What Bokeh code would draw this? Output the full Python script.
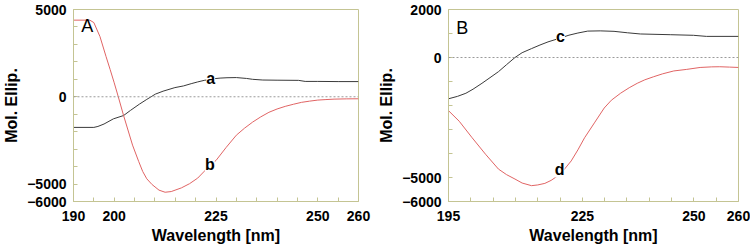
from bokeh.plotting import figure
from bokeh.layouts import row
from bokeh.models import Range1d, FixedTicker, Span
from bokeh.core.properties import value
from bokeh.embed import file_html
from bokeh.resources import INLINE

# ---------------- Panel A data ----------------
wl_a = [190, 195, 196, 197.5, 199.8, 202.3, 204, 206.2, 208, 210.1, 212, 214.9, 217, 218.9,
        220.5, 222.1, 224.5, 226, 227.7, 230, 232.5, 234, 236.5, 240, 245.3, 246.9, 250, 255, 260]
ell_a = [-1755, -1755, -1700, -1560, -1265, -1075, -780, -420, -150, 150, 320, 525, 620, 750,
         850, 940, 1035, 1070, 1090, 1100, 1050, 1000, 960, 950, 940, 880, 880, 870, 870]

wl_b = [190, 194, 195, 196.5, 198, 199, 200, 201, 202.3, 204.5, 206, 207, 208, 209.3, 211,
        212.5, 214, 216.5, 218.5, 220.5, 222, 223.7, 225, 227.5, 230, 232, 234, 236, 238, 240,
        242, 244, 246, 248, 250, 252, 254, 257, 260]
ell_b = [4390, 4390, 4250, 3450, 2300, 1560, 800, 0, -1075, -2770, -3700, -4280, -4700, -5030, -5350,
         -5470, -5430, -5220, -4980, -4660, -4300, -3900, -3650, -2900, -2200, -1800, -1450, -1150, -890, -700,
         -550, -430, -320, -250, -190, -160, -135, -120, -115]

# ---------------- Panel B data ----------------
wl_c = [195, 197, 198.9, 200.5, 202.5, 204.3, 206.2, 208, 209.9, 211.5, 213.6, 215.5, 217.3, 220.3,
        222, 224, 226.2, 229, 232.1, 235.1, 238, 244.7, 249.9, 252.8, 260]
ell_c = [-1720, -1620, -1490, -1320, -1075, -840, -590, -300, 0, 200, 370, 520, 650, 825,
         930, 1020, 1100, 1110, 1090, 1030, 980, 950, 925, 880, 880]

wl_d = [195, 197.4, 200.3, 203.3, 206.2, 208, 209.9, 211.5, 213.6, 215, 216.6, 218, 219.5, 221,
        222.5, 224, 225.5, 227.7, 229.9, 231.5, 233.6, 235.5, 237.3, 239, 241, 243, 245.5, 248.4,
        251.4, 254, 255.8, 258, 260]
ell_d = [-2215, -2655, -3345, -4030, -4650, -4880, -5065, -5230, -5340, -5310, -5245, -5120, -4930, -4650,
         -4310, -3850, -3345, -2725, -2105, -1780, -1485, -1260, -1075, -930, -800, -680, -560, -495,
         -415, -390, -385, -400, -415]

# ---------------- ticks and labels ----------------
xticks_a = [190, 200, 225, 250, 260]
xminor_a = [195, 205, 210, 215, 220, 230, 235, 240, 245, 255]
yticks_a = [5000, 0, -5000, -6000]
yminor_a = [4000, 3000, 2000, 1000, -1000, -2000, -3000, -4000]

xticks_b = [195, 225, 250, 260]
xminor_b = [200, 205, 210, 215, 220, 230, 235, 240, 245, 255]
yticks_b = [2000, 0, -5000, -6000]
yminor_b = [1000, -1000, -2000, -3000, -4000]

panel_a_letter = ("A", 193.4, 4050)
panel_b_letter = ("B", 198.1, 1230)
curve_labels_a = (["a", "b"], [223.7, 223.5], [1035, -3900])
curve_labels_b = (["c", "d"], [220.1, 219.9], [884, -4650])

FRAME = "#c4c493"
BLACK = "#3a3a3a"
RED = "#e06464"
FONT = "Liberation Sans"


def make_panel(xr, yr, xt, xm, yt, ym, left, right):
    p = figure(width=375, height=247, output_backend="svg", toolbar_location=None,
               x_range=Range1d(*xr), y_range=Range1d(*yr),
               min_border_left=left, min_border_right=right,
               min_border_top=9, min_border_bottom=46,
               x_axis_label="Wavelength [nm]", y_axis_label="Mol. Ellip.")
    p.grid.visible = False
    p.outline_line_color = FRAME
    p.outline_line_width = 1
    p.background_fill_color = "white"
    p.border_fill_color = "white"
    p.xaxis.ticker = FixedTicker(ticks=xt, minor_ticks=xm)
    p.yaxis.ticker = FixedTicker(ticks=yt, minor_ticks=ym)
    for ax in (p.xaxis, p.yaxis):
        ax.axis_line_color = FRAME
        ax.major_tick_line_color = FRAME
        ax.minor_tick_line_color = FRAME
        ax.major_tick_in = 4
        ax.major_tick_out = 0
        ax.minor_tick_in = 4
        ax.minor_tick_out = 0
        ax.major_label_text_font = FONT
        ax.major_label_text_font_style = "bold"
        ax.major_label_text_font_size = "14px"
        ax.major_label_text_color = "black"
        ax.axis_label_text_font = FONT
        ax.axis_label_text_font_style = "bold"
        ax.axis_label_text_color = "black"
    p.yaxis.major_label_standoff = 7
    p.yaxis.axis_label_standoff = 4
    p.yaxis.axis_label_text_font_size = "16px"
    p.xaxis.major_label_standoff = 9
    p.xaxis.axis_label_standoff = 3
    p.xaxis.axis_label_text_font_size = "16px"
    p.add_layout(Span(location=0, dimension="width", line_color="#9a9a9a",
                      line_dash="2 2", line_width=1))
    return p


p1 = make_panel((190, 260), (-6000, 5000), xticks_a, xminor_a, yticks_a, yminor_a, 66, 17)
p1.line(wl_a, ell_a, line_color=BLACK, line_width=1)
p1.line(wl_b, ell_b, line_color=RED, line_width=1)
p1.text(x=[panel_a_letter[1]], y=[panel_a_letter[2]], text=[panel_a_letter[0]],
        text_font=value(FONT), text_font_size="18px", text_align="center",
        text_baseline="middle", text_color="black")
p1.text(x=curve_labels_a[1], y=curve_labels_a[2], text=curve_labels_a[0],
        text_font=value(FONT), text_font_size="16px", text_font_style="bold",
        text_align="center", text_baseline="middle", text_color="black",
        background_fill_color="white")

p2 = make_panel((195, 260), (-6000, 2000), xticks_b, xminor_b, yticks_b, yminor_b, 69, 12)
p2.line(wl_c, ell_c, line_color=BLACK, line_width=1)
p2.line(wl_d, ell_d, line_color=RED, line_width=1)
p2.text(x=[panel_b_letter[1]], y=[panel_b_letter[2]], text=[panel_b_letter[0]],
        text_font=value(FONT), text_font_size="18px", text_align="center",
        text_baseline="middle", text_color="black")
p2.text(x=curve_labels_b[1], y=curve_labels_b[2], text=curve_labels_b[0],
        text_font=value(FONT), text_font_size="16px", text_font_style="bold",
        text_align="center", text_baseline="middle", text_color="black",
        background_fill_color="white")

layout = row(p1, p2)
open("out.html", "w").write(file_html(layout, INLINE))
